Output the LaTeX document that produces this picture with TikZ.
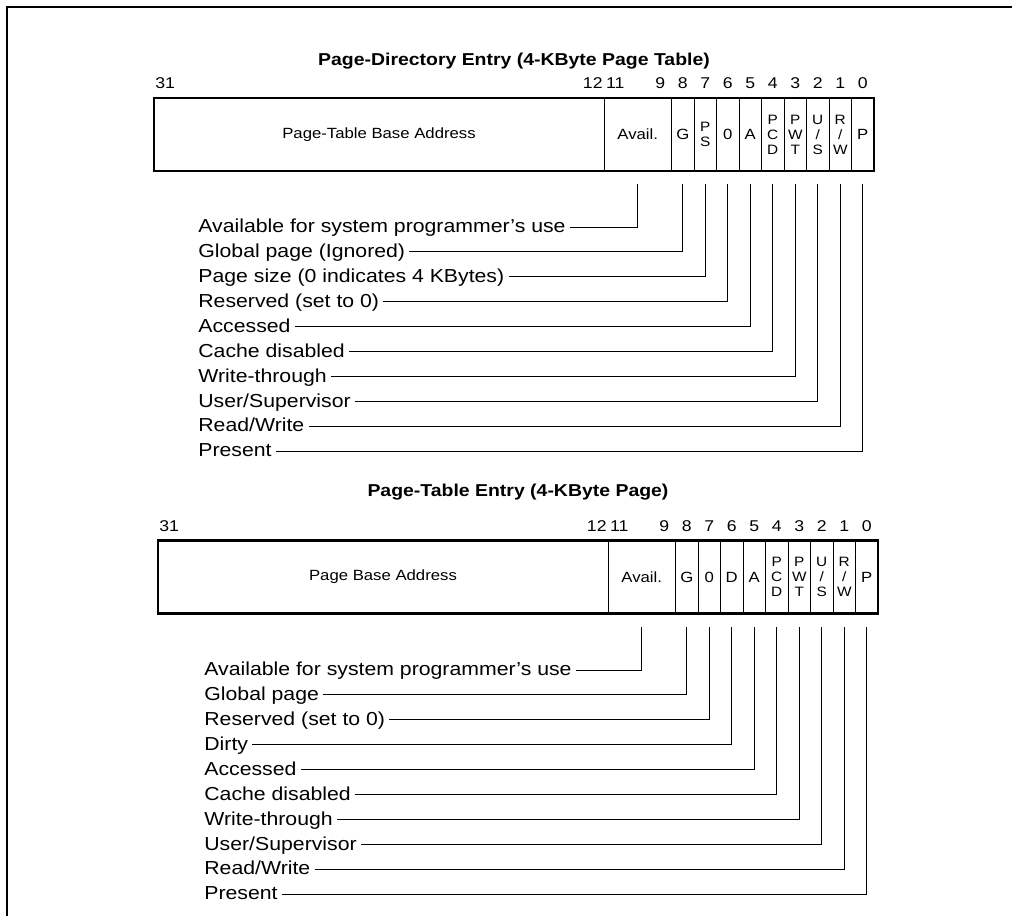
\documentclass[tikz,border=0pt]{standalone}
\usepackage{fontspec}
\setmainfont[FakeStretch=1.13]{Liberation Sans}
\usepackage{tikz}
\usetikzlibrary{positioning}
\tikzstyle{cell} = [draw, line width=0.5pt,
	inner sep=0pt, outer sep=0pt,
	minimum width=11.25pt,
	minimum height=36.5pt,
	font=\fontsize{7.4}{8}\selectfont]
\tikzstyle{wide} = [cell, minimum width=225pt]
\tikzstyle{availcell} = [cell, minimum width=33.75pt]
\tikzstyle{stack} = [cell, align=center, font=\fontsize{6.8}{7.5}\selectfont]
\tikzstyle{bitno} = [inner sep=0pt, anchor=base, font=\fontsize{7.8}{8}\selectfont]
\tikzstyle{field} = [inner sep=2pt, anchor=west,
	text height=6.7pt, text depth=1pt,
	font=\fontsize{9.4}{11}\selectfont]
\tikzstyle{heading} = [font=\fontsize{8.6}{10}\selectfont\bfseries]
\tikzstyle{regbox} = [line width=1.25pt]
\tikzstyle{lead} = [line width=0.5pt]
\newcommand{\fieldline}[4]{\node (#1) [field] at #2 {#3};
	\draw [lead] (#1.east) -| ([yshift=-6.5pt]#4.south)}

\begin{document}
\begin{tikzpicture}[x=0.5pt, y=-0.5pt]
	\useasboundingbox (0,0) rectangle (1012,916);
	\draw [regbox] (7,916) |- (1012,7);
	
	\node (title1) [heading] at (514,61) {Page-Directory Entry (4-KByte Page Table)};
	\node (base1) [wide] at (379,134.5) {Page-Table Base Address};
	\node (avail1) [availcell, right=0pt of base1] {Avail.};
	\node (g1) [cell, right=0pt of avail1] {G};
	\node (ps1) [stack, right=0pt of g1] {P\\S};
	\node (zero1) [cell, right=0pt of ps1] {0};
	\node (a1) [cell, right=0pt of zero1] {A};
	\node (pcd1) [stack, right=0pt of a1] {P\\C\\D};
	\node (pwt1) [stack, right=0pt of pcd1] {P\\W\\T};
	\node (us1) [stack, right=0pt of pwt1] {U\\/\\S};
	\node (rw1) [stack, right=0pt of us1] {R\\/\\W};
	\node (p1) [cell, right=0pt of rw1] {P};
	\draw [regbox] (base1.north west) rectangle (p1.south east);
	
	\node (b31) [bitno] at ([shift={(5.625pt,4.75pt)}]base1.north west) {31};
	\node (b12) [bitno] at ([shift={(-5.625pt,4.75pt)}]avail1.north west) {12};
	\node (b11) [bitno] at ([shift={(5.625pt,4.75pt)}]avail1.north west) {11};
	\node (b9) [bitno] at ([shift={(-5.625pt,4.75pt)}]avail1.north east) {9};
	\node (b8) [bitno] at ([yshift=4.75pt]g1.north) {8};
	\node (b7) [bitno] at ([yshift=4.75pt]ps1.north) {7};
	\node (b6) [bitno] at ([yshift=4.75pt]zero1.north) {6};
	\node (b5) [bitno] at ([yshift=4.75pt]a1.north) {5};
	\node (b4) [bitno] at ([yshift=4.75pt]pcd1.north) {4};
	\node (b3) [bitno] at ([yshift=4.75pt]pwt1.north) {3};
	\node (b2) [bitno] at ([yshift=4.75pt]us1.north) {2};
	\node (b1) [bitno] at ([yshift=4.75pt]rw1.north) {1};
	\node (b0) [bitno] at ([yshift=4.75pt]p1.north) {0};
	
	\fieldline{lavail1}{(194,227)}{Available for system programmer's use}{avail1};
	\fieldline{lg1}{(194,251.9)}{Global page (Ignored)}{g1};
	\fieldline{lps1}{(194,276.8)}{Page size (0 indicates 4 KBytes)}{ps1};
	\fieldline{lzero1}{(194,301.7)}{Reserved (set to 0)}{zero1};
	\fieldline{la1}{(194,326.6)}{Accessed}{a1};
	\fieldline{lpcd1}{(194,351.5)}{Cache disabled}{pcd1};
	\fieldline{lpwt1}{(194,376.4)}{Write-through}{pwt1};
	\fieldline{lus1}{(194,401.3)}{User/Supervisor}{us1};
	\fieldline{lrw1}{(194,426.2)}{Read/Write}{rw1};
	\fieldline{lp1}{(194,451.1)}{Present}{p1};
	
	\node (title2) [heading] at (518,492) {Page-Table Entry (4-KByte Page)};
	\node (base2) [wide] at (383,577) {Page Base Address};
	\node (avail2) [availcell, right=0pt of base2] {Avail.};
	\node (g2) [cell, right=0pt of avail2] {G};
	\node (zero2) [cell, right=0pt of g2] {0};
	\node (d2) [cell, right=0pt of zero2] {D};
	\node (a2) [cell, right=0pt of d2] {A};
	\node (pcd2) [stack, right=0pt of a2] {P\\C\\D};
	\node (pwt2) [stack, right=0pt of pcd2] {P\\W\\T};
	\node (us2) [stack, right=0pt of pwt2] {U\\/\\S};
	\node (rw2) [stack, right=0pt of us2] {R\\/\\W};
	\node (p2) [cell, right=0pt of rw2] {P};
	\draw [regbox] (base2.north west) rectangle (p2.south east);
	
	\node (c31) [bitno] at ([shift={(5.625pt,4.75pt)}]base2.north west) {31};
	\node (c12) [bitno] at ([shift={(-5.625pt,4.75pt)}]avail2.north west) {12};
	\node (c11) [bitno] at ([shift={(5.625pt,4.75pt)}]avail2.north west) {11};
	\node (c9) [bitno] at ([shift={(-5.625pt,4.75pt)}]avail2.north east) {9};
	\node (c8) [bitno] at ([yshift=4.75pt]g2.north) {8};
	\node (c7) [bitno] at ([yshift=4.75pt]zero2.north) {7};
	\node (c6) [bitno] at ([yshift=4.75pt]d2.north) {6};
	\node (c5) [bitno] at ([yshift=4.75pt]a2.north) {5};
	\node (c4) [bitno] at ([yshift=4.75pt]pcd2.north) {4};
	\node (c3) [bitno] at ([yshift=4.75pt]pwt2.north) {3};
	\node (c2) [bitno] at ([yshift=4.75pt]us2.north) {2};
	\node (c1) [bitno] at ([yshift=4.75pt]rw2.north) {1};
	\node (c0) [bitno] at ([yshift=4.75pt]p2.north) {0};
	
	\fieldline{lavail2}{(200,670)}{Available for system programmer's use}{avail2};
	\fieldline{lg2}{(200,694.9)}{Global page}{g2};
	\fieldline{lzero2}{(200,719.8)}{Reserved (set to 0)}{zero2};
	\fieldline{ld2}{(200,744.7)}{Dirty}{d2};
	\fieldline{la2}{(200,769.6)}{Accessed}{a2};
	\fieldline{lpcd2}{(200,794.5)}{Cache disabled}{pcd2};
	\fieldline{lpwt2}{(200,819.4)}{Write-through}{pwt2};
	\fieldline{lus2}{(200,844.3)}{User/Supervisor}{us2};
	\fieldline{lrw2}{(200,869.2)}{Read/Write}{rw2};
	\fieldline{lp2}{(200,894.1)}{Present}{p2};
\end{tikzpicture}
\end{document}
